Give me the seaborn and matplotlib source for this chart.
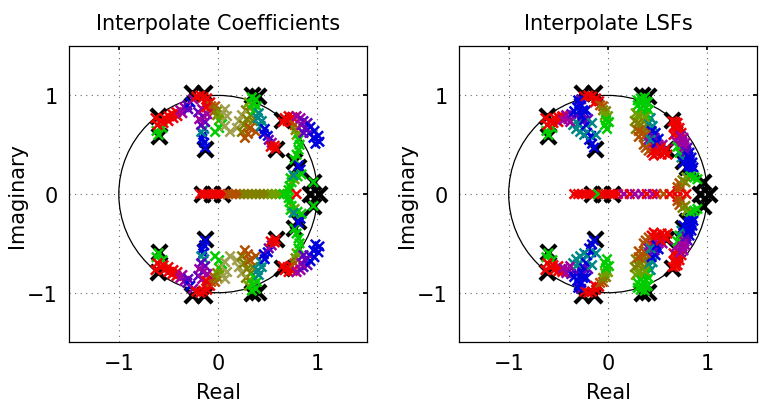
import matplotlib
matplotlib.use('Agg')
import matplotlib.pyplot as plt
from matplotlib.patches import Circle
import pandas as pd
import seaborn as sns

sns.set_theme(style='white')
plt.rcParams['font.family'] = ['DejaVu Sans']
plt.rcParams['axes.unicode_minus'] = True
plt.rcParams['text.color'] = 'black'
plt.rcParams['axes.labelcolor'] = 'black'

TITLES = ['Interpolate Coefficients', 'Interpolate LSFs']
TICKS = [-1, 0, 1]

# colour of each interpolation step (key -> colour)
PALETTE = {
    'r': '#ee0000', 'g': '#00cc00', 'b': '#0000dd', 'm': '#a000a0',
    'v': '#6000c0', 't': '#008888', 'o': '#808000', 'y': '#70a000',
    'n': '#b05000', 'l': '#a0a050',
}

# black crosses = start / end poles (upper half, conjugates mirrored)
poles_upper = [(-0.61, 0.79), (-0.60, 0.585), (-0.26, 1.02), (-0.14, 1.02),
               (-0.13, 0.46), (0.34, 1.00), (0.40, 0.99), (0.58, 0.46),
               (0.64, 0.75), (0.76, 0.34), (0.80, 0.27), (0.96, 0.12)]
poles_real = [(-0.165, 0), (-0.064, 0), (0.037, 0), (0.93, 0), (1.02, 0)]

###############################################################################
# Interpolate Coefficients : upper half trajectories
coef_ul_band = [(-0.60, 0.60, 'g'), (-0.62, 0.64, 'g'), (-0.56, 0.67, 'g'), (-0.61, 0.70, 'r'),
                (-0.63, 0.77, 'r'), (-0.58, 0.74, 'r'), (-0.55, 0.72, 'r'), (-0.54, 0.77, 'r'),
                (-0.50, 0.74, 'r'), (-0.50, 0.79, 'r'), (-0.45, 0.77, 'r'), (-0.46, 0.81, 'r'),
                (-0.42, 0.83, 'r'), (-0.41, 0.79, 'r'), (-0.38, 0.85, 'm'), (-0.36, 0.82, 'm'),
                (-0.34, 0.88, 'm'), (-0.31, 0.90, 'v'), (-0.30, 0.86, 'v'), (-0.28, 0.93, 'b'),
                (-0.25, 0.96, 'm'), (-0.22, 0.99, 'r'), (-0.18, 1.00, 'r')]
coef_ul_fan = [(-0.15, 0.98, 'r'), (-0.11, 0.97, 'r'), (-0.12, 0.92, 'r'), (-0.08, 0.93, 'r'),
               (-0.07, 0.89, 'n'), (-0.03, 0.89, 'n'), (-0.04, 0.84, 'n'), (0.00, 0.85, 'o'),
               (-0.01, 0.80, 'o'), (0.03, 0.80, 'y'), (0.01, 0.75, 'y'), (0.04, 0.71, 'g'),
               (0.01, 0.67, 'g'), (-0.03, 0.63, 'g'), (0.07, 0.86, 'l'), (0.09, 0.79, 'l'),
               (0.07, 0.69, 'l'), (0.12, 0.63, 'l')]
coef_ul_stem = [(-0.13, 0.47, 'b'), (-0.14, 0.52, 'b'), (-0.16, 0.56, 'b'), (-0.15, 0.60, 'b'),
                (-0.17, 0.63, 't'), (-0.14, 0.66, 't'), (-0.17, 0.70, 'v'), (-0.13, 0.73, 'v'),
                (-0.19, 0.76, 'm'), (-0.15, 0.79, 'm'), (-0.11, 0.81, 'm'), (-0.20, 0.83, 'v'),
                (-0.16, 0.86, 'm'), (-0.12, 0.88, 'r')]
coef_um_band = [(0.34, 0.98, 'g'), (0.38, 0.96, 'g'), (0.35, 0.92, 'g'), (0.39, 0.89, 'g'),
                (0.37, 0.85, 'g'), (0.41, 0.82, 't'), (0.40, 0.77, 't'), (0.44, 0.74, 't'),
                (0.43, 0.69, 't'), (0.47, 0.66, 'b'), (0.46, 0.61, 'b'), (0.50, 0.59, 'b'),
                (0.51, 0.55, 'v'), (0.54, 0.52, 'm'), (0.53, 0.48, 'r'), (0.57, 0.49, 'r'),
                (0.58, 0.46, 'r')]
coef_um_fan = [(0.31, 0.93, 'y'), (0.32, 0.87, 'y'), (0.28, 0.85, 'o'), (0.33, 0.80, 'o'),
               (0.24, 0.80, 'l'), (0.29, 0.76, 'o'), (0.35, 0.74, 'o'), (0.21, 0.74, 'l'),
               (0.26, 0.70, 'o'), (0.32, 0.67, 'n'), (0.19, 0.67, 'l'), (0.24, 0.63, 'o'),
               (0.30, 0.61, 'n'), (0.38, 0.63, 'n'), (0.27, 0.57, 'n')]
coef_ur_arc = [(0.65, 0.73, 'r'), (0.67, 0.77, 'r'), (0.71, 0.79, 'r'), (0.75, 0.78, 'r'),
               (0.70, 0.74, 'r'), (0.74, 0.73, 'r'), (0.77, 0.70, 'n'), (0.78, 0.65, 'o'),
               (0.79, 0.60, 'y'), (0.81, 0.55, 'g'), (0.82, 0.50, 'g'), (0.81, 0.45, 'g'),
               (0.79, 0.40, 'g'), (0.77, 0.35, 'g')]
coef_ur_fan = [(0.79, 0.79, 'm'), (0.83, 0.77, 'm'), (0.86, 0.74, 'v'), (0.90, 0.72, 'v'),
               (0.84, 0.70, 'm'), (0.88, 0.67, 'v'), (0.93, 0.68, 'b'), (0.92, 0.62, 'v'),
               (0.97, 0.64, 'b'), (0.96, 0.57, 'b'), (1.01, 0.59, 'b'), (1.02, 0.53, 'b'),
               (0.98, 0.51, 'b'), (0.86, 0.62, 'v')]
coef_ur_tail = [(0.81, 0.29, 'b'), (0.83, 0.25, 'b'), (0.96, 0.12, 'g')]
coef_arc = [(0.71, 0.04, 'g'), (0.72, 0.08, 'g'), (0.74, 0.12, 'g'), (0.77, 0.15, 'y'),
            (0.80, 0.18, 'g'), (0.84, 0.20, 'g'), (0.73, 0.16, 'g'), (0.76, 0.19, 't')]
# on the real axis
coef_real = [(-0.18, 0, 'r'), (-0.14, 0, 'r'), (-0.10, 0, 'r'), (-0.06, 0, 'r'), (-0.02, 0, 'r'),
             (0.02, 0, 'r'), (0.06, 0, 'r'), (0.10, 0, 'n'), (0.14, 0, 'n'), (0.18, 0, 'n'),
             (0.22, 0, 'n'), (0.26, 0, 'o'), (0.30, 0, 'o'), (0.34, 0, 'o'), (0.38, 0, 'o'),
             (0.42, 0, 'o'), (0.46, 0, 'o'), (0.50, 0, 'o'), (0.54, 0, 'y'), (0.58, 0, 'y'),
             (0.62, 0, 'y'), (0.66, 0, 'g'), (0.70, 0, 'g'), (0.79, 0, 'r')]

###############################################################################
# Interpolate LSFs : upper half trajectories
lsf_ul_band = [(-0.60, 0.60, 'g'), (-0.62, 0.64, 'g'), (-0.56, 0.67, 'g'), (-0.61, 0.70, 'r'),
               (-0.63, 0.77, 'r'), (-0.58, 0.74, 'r'), (-0.54, 0.77, 'r'), (-0.55, 0.72, 'r'),
               (-0.50, 0.78, 'r'), (-0.50, 0.73, 'r'), (-0.46, 0.79, 'r'), (-0.45, 0.75, 'm'),
               (-0.42, 0.80, 'm'), (-0.40, 0.76, 'm'), (-0.37, 0.81, 'v'), (-0.34, 0.84, 'b'),
               (-0.31, 0.88, 'b'), (-0.29, 0.92, 'b'), (-0.27, 0.96, 'v'), (-0.24, 0.99, 'r'),
               (-0.20, 1.00, 'r'), (-0.30, 0.95, 'b'), (-0.27, 0.90, 'b'), (-0.25, 0.85, 'b'),
               (-0.32, 0.80, 'b'), (-0.28, 0.76, 'v'), (-0.22, 0.85, 'b')]
lsf_ul_fan = [(-0.16, 0.99, 'r'), (-0.12, 0.97, 'r'), (-0.13, 0.93, 'r'), (-0.09, 0.94, 'r'),
              (-0.08, 0.90, 'n'), (-0.05, 0.89, 'n'), (-0.05, 0.85, 'o'), (-0.02, 0.84, 'o'),
              (-0.03, 0.80, 'y'), (0.00, 0.79, 'y'), (-0.02, 0.75, 'g'), (0.01, 0.73, 'g'),
              (-0.03, 0.70, 'g'), (-0.01, 0.66, 'g')]
lsf_ul_vee = [(-0.14, 0.47, 'b'), (-0.16, 0.51, 'b'), (-0.19, 0.55, 'b'), (-0.17, 0.59, 'b'),
              (-0.21, 0.62, 'b'), (-0.24, 0.60, 't'), (-0.28, 0.63, 't'), (-0.32, 0.66, 't'),
              (-0.35, 0.70, 't'), (-0.38, 0.73, 'm'), (-0.25, 0.67, 't'), (-0.30, 0.71, 't'),
              (-0.22, 0.70, 'b'), (-0.24, 0.75, 'b'), (-0.26, 0.80, 'b'), (-0.20, 0.76, 'v'),
              (-0.16, 0.72, 't'), (-0.12, 0.60, 't')]
lsf_um_blob = [(0.33, 0.97, 'g'), (0.30, 0.90, 'g'), (0.28, 0.82, 'y'), (0.27, 0.74, 'o'),
               (0.28, 0.66, 'o'), (0.31, 0.58, 'n'), (0.36, 0.50, 'n'), (0.41, 0.44, 'n'),
               (0.46, 0.39, 'r'), (0.37, 0.98, 'g'), (0.36, 0.90, 'g'), (0.35, 0.82, 'g'),
               (0.36, 0.74, 'y'), (0.38, 0.66, 'o'), (0.41, 0.59, 't'), (0.45, 0.52, 'm'),
               (0.50, 0.45, 'r'), (0.54, 0.40, 'r'), (0.40, 0.93, 'g'), (0.41, 0.85, 'g'),
               (0.43, 0.77, 't'), (0.45, 0.69, 't'), (0.48, 0.62, 'b'), (0.51, 0.56, 'b'),
               (0.55, 0.50, 'm'), (0.58, 0.45, 'r'), (0.60, 0.40, 'r'), (0.32, 0.78, 'y'),
               (0.33, 0.70, 'o'), (0.35, 0.62, 'n'), (0.40, 0.54, 'm'), (0.39, 0.80, 'g'),
               (0.41, 0.72, 't'), (0.44, 0.64, 'b'), (0.47, 0.57, 'v'), (0.46, 0.46, 'r'),
               (0.51, 0.50, 'm'), (0.30, 0.95, 'g'), (0.34, 0.93, 'g'), (0.38, 0.94, 'g'),
               (0.33, 0.86, 'g'), (0.38, 0.87, 'g'), (0.30, 0.80, 'y'), (0.37, 0.78, 'y'),
               (0.30, 0.72, 'o'), (0.34, 0.66, 'o'), (0.31, 0.64, 'n'), (0.38, 0.60, 'n'),
               (0.43, 0.55, 't'), (0.49, 0.52, 'b'), (0.53, 0.47, 'r'), (0.44, 0.42, 'r'),
               (0.38, 0.47, 'n'), (0.49, 0.41, 'r'), (0.57, 0.42, 'r')]
lsf_ur_band = [(0.65, 0.74, 'r'), (0.67, 0.69, 'r'), (0.69, 0.64, 'r'), (0.71, 0.59, 'r'),
               (0.73, 0.54, 'm'), (0.75, 0.49, 'm'), (0.77, 0.44, 'v'), (0.79, 0.39, 'v'),
               (0.80, 0.34, 'b'), (0.81, 0.29, 'b'), (0.82, 0.24, 'b'), (0.83, 0.19, 'b'),
               (0.70, 0.72, 'r'), (0.72, 0.67, 'r'), (0.74, 0.62, 'r'), (0.76, 0.57, 'm'),
               (0.78, 0.52, 'm'), (0.80, 0.47, 'v'), (0.82, 0.42, 'b'), (0.84, 0.37, 'b'),
               (0.85, 0.32, 'b'), (0.86, 0.27, 'b'), (0.66, 0.60, 'r'), (0.68, 0.54, 'm'),
               (0.70, 0.48, 'g'), (0.72, 0.42, 'g'), (0.74, 0.37, 't'), (0.76, 0.32, 'b'),
               (0.68, 0.73, 'r'), (0.69, 0.68, 'r'), (0.71, 0.64, 'r'), (0.73, 0.59, 'm'),
               (0.75, 0.53, 'm'), (0.77, 0.48, 'm'), (0.79, 0.43, 'v'), (0.81, 0.38, 'b'),
               (0.82, 0.33, 'b'), (0.83, 0.28, 'b'), (0.84, 0.23, 'b')]
lsf_arc = [(0.70, 0.03, 'r'), (0.70, 0.07, 'n'), (0.72, 0.11, 'n'), (0.75, 0.14, 'o'),
           (0.79, 0.17, 'y'), (0.83, 0.18, 'g'), (0.87, 0.17, 'g'), (0.90, 0.15, 'g'),
           (0.74, 0.07, 'n'), (0.78, 0.12, 'o')]
lsf_real = [(-0.34, 0, 'r'), (-0.30, 0, 'r'), (-0.26, 0, 'r'), (-0.22, 0, 'r'), (-0.18, 0, 'r'),
            (-0.14, 0, 'r'), (-0.10, 0, 'g'), (-0.06, 0, 'r'), (-0.02, 0, 'r'), (0.02, 0, 'r'),
            (0.06, 0, 'r'), (0.10, 0, 'r'), (0.16, 0, 'm'), (0.22, 0, 'r'), (0.27, 0, 'm'),
            (0.34, 0, 'm'), (0.39, 0, 'r'), (0.45, 0, 'm'), (0.49, 0, 'r'), (0.56, 0, 'n'),
            (0.62, 0, 'r'), (0.79, 0, 'r')]

PANELS = [
    ([coef_ul_band, coef_ul_fan, coef_ul_stem, coef_um_fan, coef_um_band,
      coef_ur_arc, coef_ur_fan, coef_ur_tail, coef_arc], coef_real),
    ([lsf_ul_band, lsf_ul_fan, lsf_ul_vee, lsf_um_blob, lsf_ur_band, lsf_arc], lsf_real),
]


def make_frame(upper, real):
    up = pd.DataFrame([p for s in upper for p in s], columns=['x', 'y', 'c'])
    lo = up.assign(y=-up['y'])
    re = pd.DataFrame(real, columns=['x', 'y', 'c'])
    return pd.concat([up, lo, re], ignore_index=True)


poles = pd.DataFrame(poles_upper, columns=['x', 'y'])
poles = pd.concat([poles, poles.assign(y=-poles['y']),
                   pd.DataFrame(poles_real, columns=['x', 'y'])], ignore_index=True)

fig = plt.figure(figsize=(7.6, 4.06), dpi=100)
boxes = [[0.091, 0.155, 0.392, 0.729], [0.604, 0.155, 0.392, 0.729]]

for box, title, (upper, real) in zip(boxes, TITLES, PANELS):
    ax = fig.add_axes(box)
    df = make_frame(upper, real)
    ax.add_patch(Circle((0, 0), 1, fill=False, color='black', lw=0.9, zorder=2))
    sns.scatterplot(data=poles, x='x', y='y', color='black', marker='x', s=120,
                    linewidth=3.0, ax=ax, zorder=3, legend=False)
    sns.scatterplot(data=df, x='x', y='y', hue='c', palette=PALETTE, marker='x', s=45,
                    linewidth=1.8, ax=ax, zorder=4, legend=False)
    ax.set_xlim(-1.5, 1.5)
    ax.set_ylim(-1.5, 1.5)
    ax.set_xticks(TICKS)
    ax.set_yticks(TICKS)
    ax.grid(True, linestyle=(0, (1, 4)), color='#666666', linewidth=0.8)
    ax.set_axisbelow(True)
    for sp in ax.spines.values():
        sp.set_color('black')
        sp.set_linewidth(0.9)
    ax.tick_params(direction='in', length=3, top=True, right=True, labelsize=15,
                   pad=8, colors='black')
    ax.set_title(title, fontsize=15, pad=12, color='black')
    ax.set_xlabel('Real', fontsize=15, labelpad=6)
    ax.set_ylabel('Imaginary', fontsize=15, labelpad=0)

plt.savefig('out.png', dpi=100)
